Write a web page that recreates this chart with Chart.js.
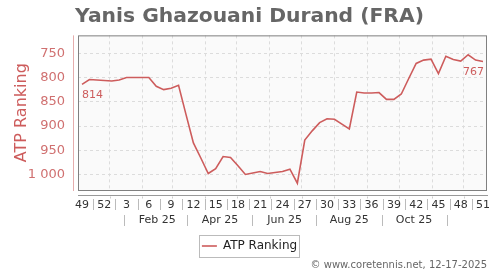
<!DOCTYPE html>
<html>
<head>
<meta charset="utf-8">
<script src="https://cdn.jsdelivr.net/npm/chart.js@4.4.1/dist/chart.umd.min.js"></script>
<style>
  html, body { margin: 0; padding: 0; background: #fff; }
  #wrap { width: 500px; height: 270px; }
</style>
</head>
<body>
<div id="wrap"><canvas id="rankChart" width="500" height="270"></canvas></div>
<script>
// weekly ATP ranking, week 49/2024 .. week 51/2025
const ranking = [
  814, 804, 805, 806, 807, 805, 800, 800, 800, 800,
  818, 825, 822, 816, 876, 935, 966, 998, 988, 963,
  965, 982, 1000, 997, 994, 998, 996, 994, 989, 1018,
  929, 910, 893, 885, 886, 896, 906, 830, 832, 832,
  831, 845, 845, 834, 802, 771, 764, 762, 792, 756,
  763, 766, 753, 764, 767
];
const weekLabels = ["49", "52", "3", "6", "9", "12", "15", "18", "21", "24",
  "27", "30", "33", "36", "39", "42", "45", "48", "51"];
const yTicks = [750, 800, 850, 900, 950, 1000];
const yTickLabels = ["750", "800", "850", "900", "950", "1 000"];
const firstDate = "2024-12-06";
const monthGridDates = ["2025-01-01", "2025-02-01", "2025-03-01", "2025-04-01", "2025-05-01", "2025-06-01",
  "2025-07-01", "2025-08-01", "2025-09-01", "2025-10-01", "2025-11-01", "2025-12-01"];
const monthLabels = ["Feb 25", "Apr 25", "Jun 25", "Aug 25", "Oct 25"];
const monthLabelDates = ["2025-02-15", "2025-04-15", "2025-06-15", "2025-08-15", "2025-10-15"];
const monthSepDates = ["2025-01-15", "2025-03-15", "2025-05-15", "2025-07-15", "2025-09-15", "2025-11-15"];

const lineColor = "#cd5c5c";
const FONT = "'DejaVu Sans', sans-serif";
const X_MIN = -0.54, X_MAX = ranking.length - 1 + 0.54;

function weekPos(d) {
  return (Date.parse(d) - Date.parse(firstDate)) / (7 * 86400000);
}

const decor = {
  id: "decor",
  beforeDraw(chart) {
    const { ctx, chartArea: a } = chart;
    ctx.save();
    ctx.fillStyle = "#fafafa";
    ctx.fillRect(a.left, a.top, a.right - a.left, a.bottom - a.top);
    ctx.restore();
  },
  afterDraw(chart) {
    const { ctx, chartArea: a } = chart;
    const x = chart.scales.x;
    ctx.save();
    // plot frame
    ctx.strokeStyle = "#808080";
    ctx.lineWidth = 1;
    ctx.strokeRect(a.left + 0.5, a.top + 0.5, a.right - a.left - 1, a.bottom - a.top);
    // y axis line
    ctx.strokeStyle = "rgba(205,92,92,0.5)";
    ctx.beginPath();
    ctx.moveTo(a.left - 4.5, a.top);
    ctx.lineTo(a.left - 4.5, a.bottom + 1);
    ctx.stroke();
    // x axis line + month ticks
    const ay = a.bottom + 5.5;
    ctx.strokeStyle = "#999";
    ctx.beginPath();
    ctx.moveTo(a.left, ay);
    ctx.lineTo(a.right + 1, ay);
    ctx.stroke();
    ctx.strokeStyle = "#ccc";
    ctx.beginPath();
    monthGridDates.forEach(d => {
      const px = Math.round(x.getPixelForValue(weekPos(d))) + 0.5;
      ctx.moveTo(px, ay + 1);
      ctx.lineTo(px, ay + 3);
    });
    ctx.stroke();
    // separators between week labels
    ctx.strokeStyle = "#bbb";
    ctx.beginPath();
    for (let k = 0; k < weekLabels.length - 1; k++) {
      const px = Math.round(x.getPixelForValue(k * 3 + 1.5)) + 0.5;
      ctx.moveTo(px, a.bottom + 9);
      ctx.lineTo(px, a.bottom + 20);
    }
    // separators between month labels
    monthSepDates.forEach(d => {
      const px = Math.round(x.getPixelForValue(weekPos(d))) + 0.5;
      ctx.moveTo(px, a.bottom + 25);
      ctx.lineTo(px, a.bottom + 36);
    });
    ctx.stroke();
    // legend frame
    const hb = chart.legend.legendHitBoxes[0];
    if (hb) {
      const cy = Math.round(hb.top + hb.height / 2);
      ctx.strokeStyle = "#bbb";
      ctx.strokeRect(Math.round(hb.left) - 2.5, cy - 10.5, Math.round(hb.width) + 5, 22);
    }
    // first and last value labels
    const pts = chart.getDatasetMeta(0).data;
    ctx.fillStyle = lineColor;
    ctx.font = "11px " + FONT;
    ctx.textBaseline = "top";
    const p0 = pts[0], pN = pts[pts.length - 1];
    ctx.textAlign = "left";
    ctx.fillText(String(ranking[0]), p0.x, p0.y + 5);
    ctx.textAlign = "right";
    ctx.fillText(String(ranking[ranking.length - 1]), pN.x + 1, pN.y + 5);
    ctx.restore();
  }
};

const ctxRank = document.getElementById("rankChart").getContext("2d");
new Chart(ctxRank, {
  type: "line",
  data: {
    datasets: [{
      label: "ATP Ranking",
      data: ranking.map((v, i) => ({ x: i, y: v })),
      borderColor: lineColor,
      backgroundColor: lineColor,
      borderWidth: 1.6,
      pointRadius: 0,
      tension: 0,
      xAxisID: "x",
      yAxisID: "y"
    }]
  },
  options: {
    responsive: false,
    animation: false,
    events: [],
    layout: { padding: { left: 12, right: 13, top: 0, bottom: 0 } },
    scales: {
      x: {
        type: "linear", min: X_MIN, max: X_MAX, weight: 0,
        afterBuildTicks: s => { s.ticks = monthGridDates.map(d => ({ value: weekPos(d) })); },
        ticks: { display: false },
        grid: { color: "#dcdcdc", drawTicks: false, tickLength: 0 },
        border: { display: false, dash: [3, 3] },
        afterFit: s => { s.height = 7; }
      },
      xw: {
        type: "linear", min: X_MIN, max: X_MAX, weight: 1,
        position: "bottom",
        afterBuildTicks: s => { s.ticks = weekLabels.map((_, k) => ({ value: k * 3 })); },
        ticks: {
          autoSkip: false, maxRotation: 0, padding: 2,
          color: "#333", font: { family: FONT, size: 11 },
          callback: (v, idx) => weekLabels[idx]
        },
        grid: { display: false, drawTicks: false, tickLength: 0 },
        border: { display: false },
        afterFit: s => { s.height = 14; }
      },
      xm: {
        type: "linear", min: X_MIN, max: X_MAX, weight: 2,
        position: "bottom",
        afterBuildTicks: s => { s.ticks = monthLabelDates.map(d => ({ value: weekPos(d) })); },
        ticks: {
          autoSkip: false, maxRotation: 0, padding: 3,
          color: "#333", font: { family: FONT, size: 11 },
          callback: (v, idx) => monthLabels[idx]
        },
        grid: { display: false, drawTicks: false, tickLength: 0 },
        border: { display: false },
        afterFit: s => { s.height = 25; }
      },
      y: {
        reverse: true, min: 713, max: 1032,
        afterBuildTicks: s => { s.ticks = yTicks.map(v => ({ value: v })); },
        ticks: {
          padding: 13,
          color: "#d07070", font: { family: FONT, size: 13 },
          callback: (v, idx) => yTickLabels[idx]
        },
        grid: { color: "#dcdcdc", drawTicks: false, tickLength: 0 },
        border: { display: false, dash: [3, 3] },
        title: {
          display: true, text: "ATP Ranking",
          color: lineColor, font: { family: FONT, size: 16 },
          padding: { top: 0, bottom: 0 }
        },
        afterFit: s => { s.width = 66; }
      }
    },
    plugins: {
      title: {
        display: true,
        text: "Yanis Ghazouani Durand (FRA)",
        color: "#666",
        font: { family: FONT, size: 20.3, weight: "bold" },
        padding: { top: 5, bottom: 6 }
      },
      subtitle: {
        display: true,
        position: "bottom",
        align: "end",
        text: "© www.coretennis.net, 12-17-2025",
        color: "#666",
        font: { family: FONT, size: 10, lineHeight: 1 },
        padding: { top: 0, bottom: 0 }
      },
      legend: {
        position: "bottom",
        maxHeight: 24,
        labels: {
          usePointStyle: true, pointStyle: "line", pointStyleWidth: 15,
          color: "#222", font: { family: FONT, size: 12 },
          padding: 4
        }
      },
      tooltip: { enabled: false }
    }
  },
  plugins: [decor]
});
</script>
</body>
</html>
